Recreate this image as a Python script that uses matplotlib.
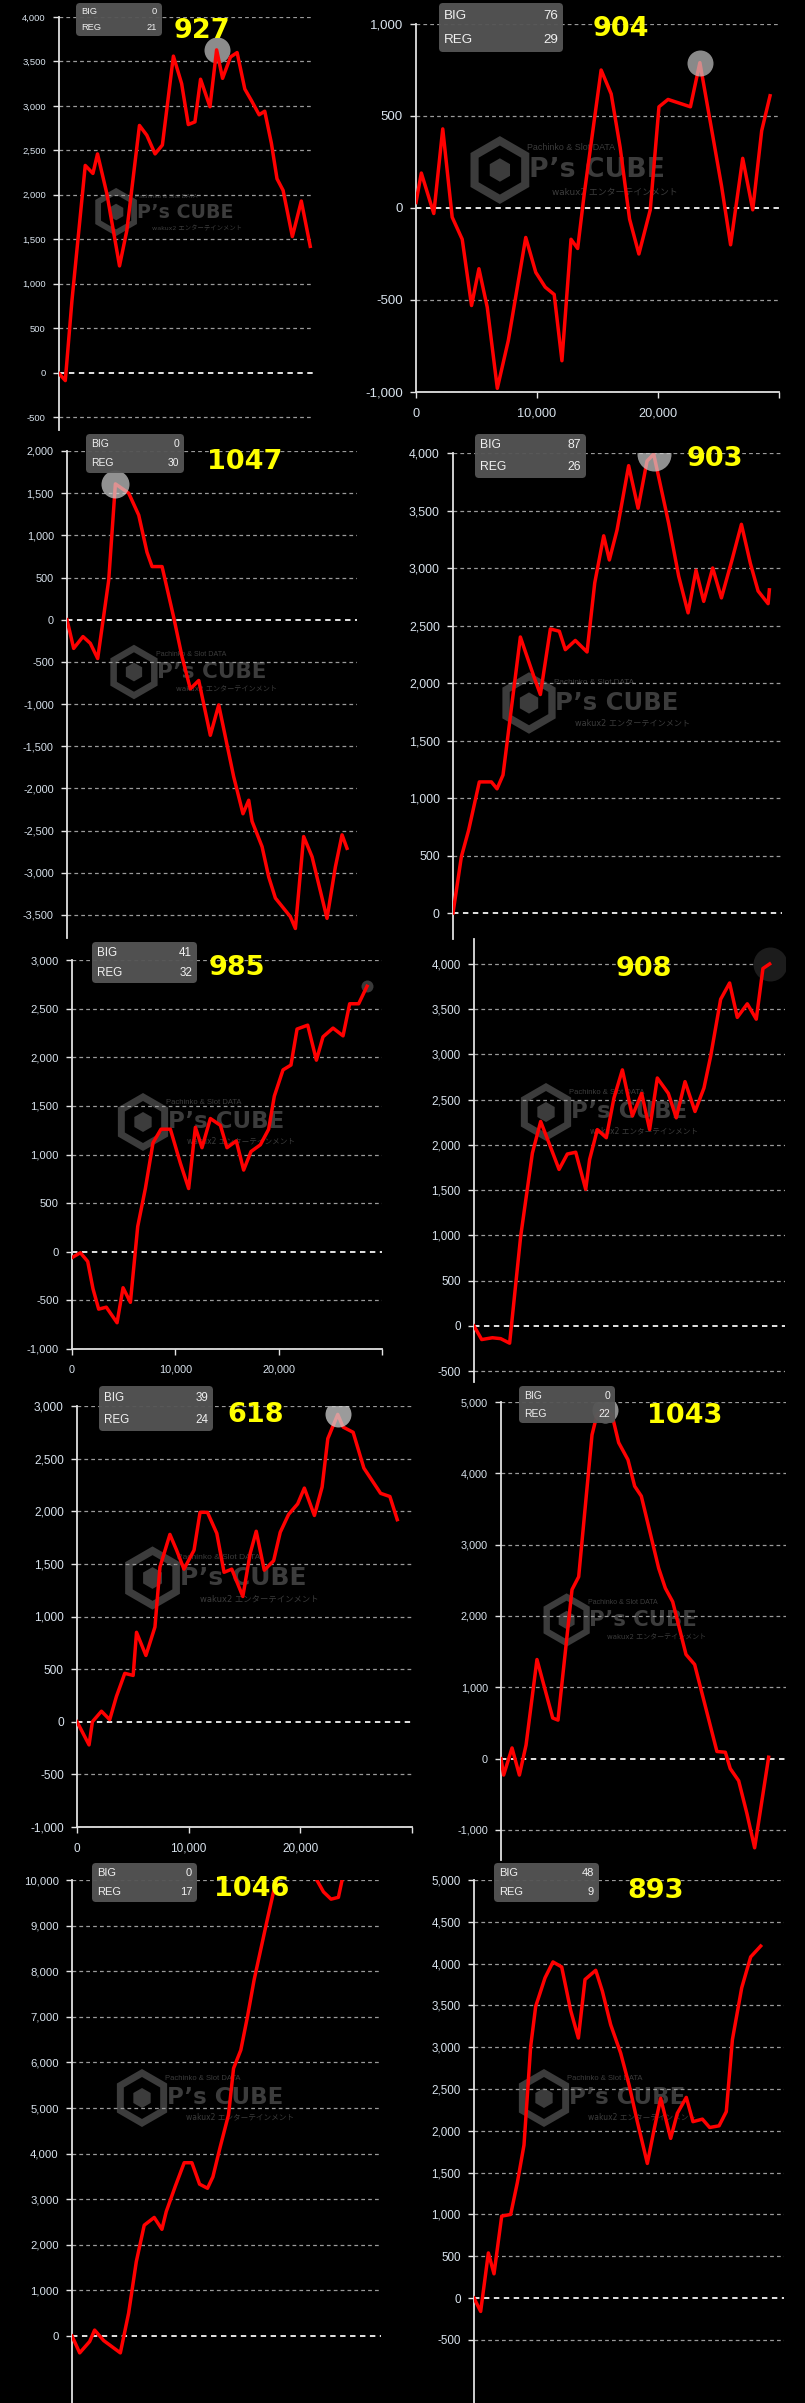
import matplotlib
matplotlib.use("Agg")
import matplotlib.pyplot as plt
from matplotlib.patches import FancyBboxPatch, RegularPolygon

W, H, DPI = 805, 2403, 100
plt.rcParams["font.family"] = ["Liberation Sans", "DejaVu Sans"]

# ── per-machine slump data: games played vs. coin difference ──
machines = ["927", "904", "1047", "903", "985", "908", "618", "1043", "1046", "893"]
big_count = [0, 76, 0, 87, 41, None, 39, 0, 0, 48]
reg_count = [21, 29, 30, 26, 32, None, 24, 22, 17, 9]

g_927 = [0, 550, 1130, 2290, 2960, 3360, 4180, 5280, 5920, 7020, 7660, 8380, 9020, 9980, 10700,
         11280, 11860, 12350, 13170, 13750, 14270, 14960, 15540, 16210, 16790, 17460, 17950,
         18530, 19020, 19550, 20360, 21140, 21920]
v_927 = [-10, -90, 810, 2330, 2240, 2460, 2010, 1200, 1600, 2780, 2670, 2460, 2560, 3560, 3250,
         2790, 2820, 3300, 2990, 3630, 3310, 3550, 3600, 3190, 3060, 2900, 2940, 2580, 2180,
         2050, 1530, 1930, 1420]

g_904 = [0, 440, 1470, 2210, 2990, 3820, 4590, 5200, 5890, 6720, 7630, 9070, 9900, 10680, 11420,
         12060, 12810, 13360, 13910, 15300, 16130, 16870, 17650, 18420, 19360, 20080, 20830,
         22680, 23460, 24290, 25250, 26000, 27000, 27830, 28570, 29260]
v_904 = [30, 190, -30, 430, -50, -170, -530, -330, -540, -980, -720, -160, -350, -430, -470, -830,
         -170, -220, 80, 750, 620, 330, -60, -250, -10, 550, 590, 550, 790, 480, 120, -200, 270,
         -10, 420, 610]

g_1047 = [0, 580, 1390, 2030, 2670, 3630, 4210, 5370, 6240, 6960, 7400, 8270, 9280, 10010, 10730,
          11460, 12470, 13200, 14500, 15310, 15810, 16100, 16970, 17550, 18130, 19430, 19870,
          20590, 21320, 22620, 23350, 23930, 24360]
v_1047 = [0, -340, -200, -280, -460, 470, 1610, 1500, 1240, 800, 630, 630, 30, -440, -820, -720,
          -1370, -1010, -1860, -2300, -2140, -2390, -2690, -3050, -3300, -3520, -3660, -2570,
          -2810, -3540, -2930, -2550, -2710]

g_903 = [0, 730, 1360, 2290, 3340, 3830, 4350, 4840, 5860, 7020, 7600, 8470, 9250, 9770, 10640,
         11660, 12330, 13110, 13600, 14270, 15280, 16100, 16880, 17460, 18760, 19630, 20450,
         21140, 21810, 22590, 23350, 24270, 25090, 25870, 26540, 27410, 27520]
v_903 = [0, 490, 720, 1140, 1140, 1080, 1200, 1590, 2400, 2060, 1900, 2470, 2450, 2290, 2370,
         2270, 2870, 3280, 3070, 3330, 3890, 3520, 3930, 3990, 3390, 2930, 2610, 2980, 2710,
         3000, 2740, 3070, 3380, 3040, 2800, 2690, 2810]

g_985 = [0, 810, 1520, 2030, 2580, 3320, 4360, 4940, 5650, 6360, 7100, 7840, 8610, 9520, 10490,
         11290, 11940, 12580, 13390, 14360, 15000, 15900, 16610, 17320, 18230, 19030, 19580,
         20420, 21190, 21780, 22810, 23650, 24290, 25260, 26230, 26870, 27740, 28550]
v_985 = [-60, -10, -100, -380, -590, -570, -730, -370, -520, 260, 650, 1120, 1260, 1260, 910, 650,
         1280, 1070, 1370, 1300, 1070, 1140, 840, 1030, 1100, 1260, 1600, 1870, 1920, 2290, 2330,
         1970, 2210, 2300, 2220, 2550, 2550, 2730]

g_908 = [0, 670, 1600, 2320, 3100, 4060, 5080, 5800, 6530, 7400, 8120, 8850, 9720, 10060, 10730,
         11510, 12180, 12910, 13780, 14590, 15280, 15950, 16910, 17600, 18360, 19230, 20010,
         20590, 21460, 22240, 22910, 23780, 24560, 25140, 25720]
v_908 = [0, -150, -130, -140, -190, 990, 1910, 2260, 2020, 1730, 1900, 1920, 1510, 1840, 2170,
         2080, 2520, 2830, 2320, 2570, 2170, 2740, 2570, 2300, 2700, 2370, 2630, 2980, 3610,
         3790, 3410, 3560, 3390, 3950, 4000]

g_618 = [0, 1080, 1380, 2190, 2930, 3530, 4280, 5030, 5330, 6170, 6980, 7430, 8320, 8920, 9580,
         10480, 11020, 11680, 12520, 13170, 13860, 14850, 15510, 16050, 16770, 17610, 18200,
         18950, 19760, 20360, 21260, 21950, 22460, 23350, 23830, 24730, 25690, 26440, 27190,
         28020, 28680]
v_618 = [0, -220, 0, 100, 20, 240, 460, 440, 850, 630, 900, 1470, 1780, 1630, 1450, 1630, 1990,
         1990, 1790, 1420, 1450, 1190, 1600, 1810, 1440, 1530, 1800, 1970, 2070, 2220, 1960,
         2230, 2690, 2920, 2800, 2750, 2410, 2290, 2170, 2140, 1920]

g_1043 = [0, 230, 960, 1600, 2180, 3130, 4500, 4960, 6180, 6760, 7920, 8350, 9080, 9660, 10240,
          11050, 11630, 12210, 13720, 14300, 14940, 16100, 16850, 18790, 19520, 19950, 20680,
          21400, 22070, 23290]
v_1043 = [0, -230, 150, -230, 190, 1390, 570, 540, 2370, 2550, 4540, 4820, 4890, 4820, 4430,
          4190, 3820, 3680, 2670, 2390, 2200, 1460, 1320, 100, 90, -140, -310, -770, -1250, 20]

g_1046 = [0, 670, 1540, 1970, 2760, 4210, 4930, 5600, 6290, 7160, 7830, 8210, 8990, 9770, 10440,
          11110, 11800, 12270, 12910, 13630, 14070, 14700, 15280, 15860, 16970, 17550, 17980,
          19290, 20740, 21320, 21900, 22560, 23200, 23580, 24070]
v_1046 = [0, -370, -120, 130, -100, -370, 500, 1630, 2430, 2600, 2340, 2730, 3280, 3800, 3800,
          3330, 3240, 3490, 4150, 4850, 5870, 6270, 7000, 7810, 9090, 9740, 10150, 10500, 10300,
          10000, 9740, 9580, 9620, 10070, 10400]

g_893 = [0, 580, 1250, 1740, 2410, 3190, 3770, 4350, 4930, 5370, 6180, 6870, 7630, 8410, 9080,
         9660, 10590, 11170, 11890, 12760, 13490, 14210, 15080, 15660, 16240, 17110, 17690,
         18470, 19050, 19870, 20500, 21320, 21950, 22480, 23290, 24070, 24940]
v_893 = [0, -160, 540, 290, 980, 1000, 1380, 1830, 3010, 3490, 3830, 4020, 3960, 3440, 3110,
         3810, 3920, 3670, 3270, 2930, 2550, 2110, 1610, 2010, 2390, 1910, 2210, 2400, 2110,
         2140, 2040, 2060, 2230, 3090, 3710, 4080, 4210]

series = [(g_927, v_927), (g_904, v_904), (g_1047, v_1047), (g_903, v_903), (g_985, v_985),
          (g_908, v_908), (g_618, v_618), (g_1043, v_1043), (g_1046, v_1046), (g_893, v_893)]

yticks = [range(-500, 4001, 500), range(-1000, 1001, 500), range(-3500, 2001, 500),
          range(0, 4001, 500), range(-1000, 3001, 500), range(-500, 4001, 500),
          range(-1000, 3001, 500), range(-1000, 5001, 1000), range(0, 10001, 1000),
          range(-500, 5001, 500)]
xticks = [0, 10000, 20000, 30000]
xticklabels = ["0", "10,000", "20,000", ""]

# ── layout of each screenshot tile (pixels) ──
# rect = axis-line x, top, right, bottom; circ = (point index, radius px, colour, alpha, on top)
layout = [
    dict(rect=(59, 17, 313, 430), ylim=(-646, 4000), xlim=(0, 22160), xaxis=False, fs=6.8,
         label=(202, 31), box=(76, 3, 162, 36), bfs=6.7, circ=(19, 13, "#8c8c8c", 1.0, False),
         wm=(185, 212, 0.83)),
    dict(rect=(416, 24, 779, 392), ylim=(-1000, 1000), xlim=(0, 30000), xaxis=True, xfs=9.2,
         fs=9.5, label=(621, 29), box=(439, 3, 563, 52), bfs=9.6,
         circ=(28, 13, "#c4c4c4", 0.7, True), wm=(597, 170, 1.17)),
    dict(rect=(67, 451, 357, 938), ylim=(-3773, 2000), xlim=(0, 25230), xaxis=False, fs=7.8,
         label=(245, 462), box=(86, 434, 184, 473), bfs=7.5,
         circ=(6, 14, "#d0d0d0", 0.7, True), wm=(212, 672, 0.94)),
    dict(rect=(453, 453, 782, 939), ylim=(-226, 4000), xlim=(0, 28620), xaxis=False, fs=8.9,
         label=(715, 459), box=(475, 434, 586, 478), bfs=8.7,
         circ=(23, 17, "#cfcfcf", 0.7, True), wm=(617, 703, 1.06)),
    dict(rect=(72, 960, 382, 1349), ylim=(-1000, 3000), xlim=(0, 30000), xaxis=True, xfs=7.8,
         fs=8.1, label=(237, 968), box=(92, 942, 197, 983), bfs=8.4,
         circ=(37, 6, "#3a3a3a", 1.0, False), wm=(226, 1122, 1.0)),
    dict(rect=(474, 939, 785, 1382), ylim=(-619, 4276), xlim=(0, 27060), xaxis=False, fs=8.4,
         label=(644, 969), box=None, bfs=8, circ=(34, 17, "#1c1c1c", 1.0, False),
         wm=(629, 1112, 1.0)),
    dict(rect=(77, 1406, 412, 1827), ylim=(-1000, 3000), xlim=(0, 30000), xaxis=True, xfs=8.5,
         fs=8.6, label=(256, 1415), box=(99, 1386, 213, 1431), bfs=8.4,
         circ=(33, 13, "#d0d0d0", 0.75, True), wm=(243, 1578, 1.09)),
    dict(rect=(501, 1402, 786, 1860), ylim=(-1421, 5000), xlim=(0, 24800), xaxis=False, fs=7.8,
         label=(685, 1416), box=(519, 1386, 615, 1423), bfs=7.5,
         circ=(12, 13, "#c8c8c8", 0.7, True), wm=(643, 1620, 0.92)),
    dict(rect=(72, 1880, 381, 2403), ylim=(-1469, 10000), xlim=(0, 26910), xaxis=False, fs=8.2,
         label=(252, 1889), box=(92, 1863, 197, 1902), bfs=8, circ=None, wm=(225, 2098, 1.0)),
    dict(rect=(474, 1880, 784, 2403), ylim=(-1255, 5000), xlim=(0, 26970), xaxis=False, fs=8.4,
         label=(656, 1891), box=(494, 1863, 599, 1902), bfs=8, circ=None, wm=(627, 2098, 1.0)),
]

fig = plt.figure(figsize=(W / DPI, H / DPI), dpi=DPI, facecolor="black")


def overlay():
    a = fig.add_axes([0, 0, 1, 1])
    a.set_xlim(0, W)
    a.set_ylim(H, 0)
    a.axis("off")
    return a


def watermark(a, cx, cy, s):
    c = "#3c3c3c"
    hx = cx - 83 * s
    a.add_patch(RegularPolygon((hx, cy), 6, radius=25 * s, fill=False, ec=c, lw=5 * s))
    a.add_patch(RegularPolygon((hx, cy), 6, radius=10 * s, fc=c, ec="none"))
    a.text(cx, cy, "P’s CUBE", ha="center", va="center", fontsize=16.5 * s,
           fontweight="bold", color=c, family="DejaVu Sans")
    a.text(cx - 22 * s, cy - 19 * s, "Pachinko & Slot DATA", ha="center", va="center",
           fontsize=5.5 * s, color=c)
    a.text(cx + 15 * s, cy + 19 * s, "wakux2 エンターテインメント", ha="center", va="center",
           fontsize=5.5 * s, color=c, family=["DejaVu Sans", "Noto Sans CJK JP"])


bg = overlay()
for lay in layout:
    watermark(bg, *lay["wm"])

for (games, diff), ticks, lay in zip(series, yticks, layout):
    l, t, r, b = lay["rect"]
    ax = fig.add_axes([l / W, 1 - b / H, (r - l) / W, (b - t) / H])
    ax.set_facecolor("none")
    ax.set_xlim(*lay["xlim"])
    ax.set_ylim(*lay["ylim"])
    for y in ticks:
        zero = y == 0
        ax.axhline(y, color="#f4f4f4" if zero else "#9a9a9a", lw=1.3 if zero else 0.9,
                   ls=(0, (3, 2.5)), zorder=1)
    ax.set_yticks(list(ticks))
    ax.set_yticklabels([f"{v:,}" for v in ticks])
    ax.tick_params(axis="y", colors="#e4e4e4", labelcolor="#d8e2ec", length=4.5, width=1,
                   pad=5, labelsize=lay["fs"])
    for s in ("top", "right"):
        ax.spines[s].set_visible(False)
    ax.spines["left"].set_color("#e0e0e0")
    ax.spines["left"].set_linewidth(1.3)
    if lay["xaxis"]:
        ax.spines["bottom"].set_color("#e0e0e0")
        ax.spines["bottom"].set_linewidth(1.3)
        ax.set_xticks(xticks)
        ax.set_xticklabels(xticklabels)
        ax.tick_params(axis="x", colors="#e4e4e4", labelcolor="#d8e2ec", length=4.5,
                       width=1, pad=7, labelsize=lay["xfs"])
    else:
        ax.spines["bottom"].set_visible(False)
        ax.set_xticks([])

    ax.plot(games, diff, color="#ff0000", lw=2.5, zorder=3)
    if lay["circ"] is not None:
        i, rad, col, alpha, on_top = lay["circ"]
        ax.plot([games[i]], [diff[i]], "o", ms=2 * rad * 0.72, color=col, alpha=alpha,
                mec="none", zorder=4 if on_top else 2)

top = overlay()
for name, nb, nr, lay in zip(machines, big_count, reg_count, layout):
    if lay["box"] is not None:
        x0, y0, x1, y1 = lay["box"]
        top.add_patch(FancyBboxPatch((x0, y0), x1 - x0, y1 - y0,
                                     boxstyle="round,pad=0,rounding_size=4",
                                     fc="#555555", ec="none", alpha=0.95))
        for row, key, val in ((0.26, "BIG", nb), (0.75, "REG", nr)):
            yy = y0 + row * (y1 - y0)
            top.text(x0 + 5, yy, key, ha="left", va="center", color="#f0f0f0",
                     fontsize=lay["bfs"])
            top.text(x1 - 5, yy, str(val), ha="right", va="center", color="#f0f0f0",
                     fontsize=lay["bfs"])
    lx, ly = lay["label"]
    top.text(lx, ly, name, ha="center", va="center", color="#ffff00", fontsize=19.5,
             fontweight="bold", family="DejaVu Sans")

fig.savefig("out.png", dpi=DPI, facecolor="black")
